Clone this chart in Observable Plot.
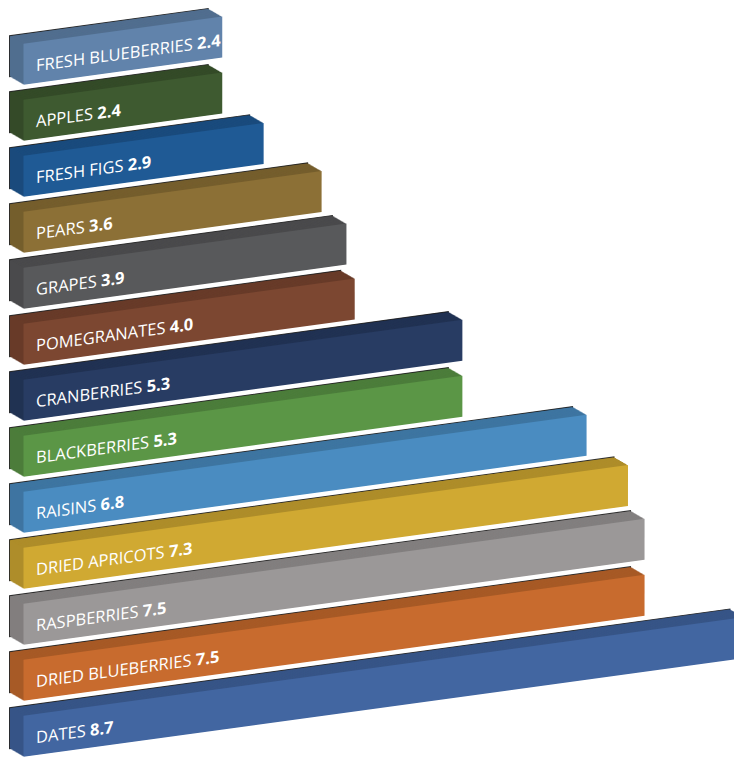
<!DOCTYPE html>
<html>
<head>
<meta charset="utf-8">
<script src="https://cdn.jsdelivr.net/npm/d3@7"></script>
<script src="https://cdn.jsdelivr.net/npm/@observablehq/plot@0.6"></script>
<style>
  html, body { margin: 0; padding: 0; background: #ffffff; }
  #chart svg { display: block; }
</style>
</head>
<body>
<div id="chart"></div>
<script>
const names = ["FRESH BLUEBERRIES","APPLES","FRESH FIGS","PEARS","GRAPES","POMEGRANATES","CRANBERRIES","BLACKBERRIES","RAISINS","DRIED APRICOTS","RASPBERRIES","DRIED BLUEBERRIES","DATES"];
const values = [2.4, 2.4, 2.9, 3.6, 3.9, 4.0, 5.3, 5.3, 6.8, 7.3, 7.5, 7.5, 8.7];
const colors = ["#6183ab","#3e5a30","#1f5a95","#8c7036","#58595b","#7c4731","#283c63","#5b9646","#4a8cc1","#d0a932","#9b9898","#c86b2e","#4266a1"];

const data = names.map((name, i) => ({
  name,
  value: values[i],
  color: colors[i],
  shade: d3.color(colors[i]).darker(0.5).formatHex()
}));

// 3D extrusion: stacked offset copies behind the front face
const depthX = -14, depthY = -10, steps = 14;
const layers = [];
for (let k = steps; k >= 1; k--) {
  layers.push(Plot.barX(data, {
    x1: 0, x2: "value", y: "name",
    fill: "shade",
    dx: depthX * k / steps,
    dy: depthY * k / steps,
    stroke: k === steps ? "#151515" : null,
    strokeWidth: k === steps ? 1 : null,
    strokeOpacity: 0.85
  }));
}

const chart = Plot.plot({
  width: 734,
  height: 759,
  margin: 0,
  x: {domain: [0, 8.7], range: [23.5, 743.9], axis: null},
  y: {domain: names, range: [46.5, 760.7], paddingInner: 0.27, paddingOuter: 0, axis: null},
  color: {type: "identity"},
  style: {background: "#ffffff"},
  marks: [
    ...layers,
    Plot.barX(data, {x1: 0, x2: "value", y: "name", fill: "color"}),
    Plot.text(data, {
      x: 0, y: "name",
      text: d => d.name + "|" + d.value.toFixed(1),
      textAnchor: "start",
      dx: 12, dy: 3,
      fill: "white",
      fontSize: 16.5,
      fontFamily: "Open Sans, Lato, sans-serif"
    })
  ]
});

// split each label into regular name + bold value
const ns = "http://www.w3.org/2000/svg";
chart.querySelectorAll('g[aria-label="text"] text').forEach(t => {
  const [a, b] = t.textContent.split("|");
  t.textContent = "";
  const s1 = document.createElementNS(ns, "tspan");
  s1.textContent = a + " ";
  const s2 = document.createElementNS(ns, "tspan");
  s2.setAttribute("font-weight", "700");
  s2.textContent = b;
  t.append(s1, s2);
});

// slant the whole chart upward to the right
chart.querySelectorAll(":scope > g").forEach(g => {
  const tr = g.getAttribute("transform") || "";
  g.setAttribute("transform", "skewY(-7.8) " + tr);
});

document.getElementById("chart").append(chart);
</script>
</body>
</html>
